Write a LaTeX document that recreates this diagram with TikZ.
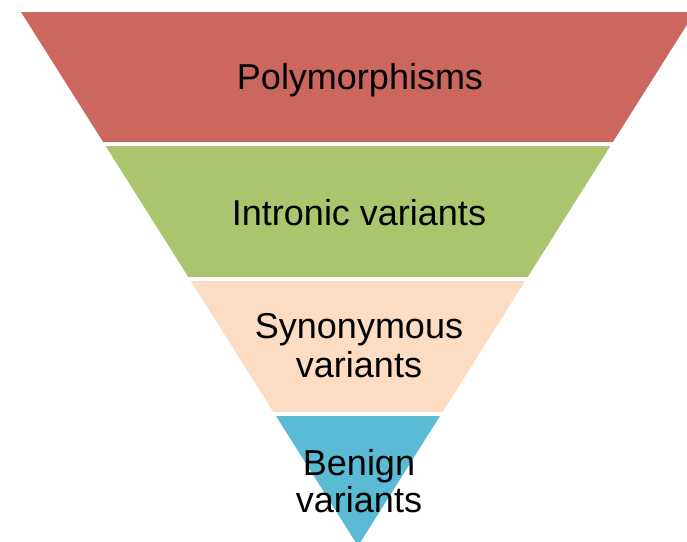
\documentclass[tikz,border=0pt]{standalone}
\usepackage{fontspec}
\setmainfont{Liberation Sans}
\definecolor{cred}{HTML}{CC6760}
\definecolor{cgreen}{HTML}{ABC46E}
\definecolor{cpeach}{HTML}{FCDDC3}
\definecolor{cblue}{HTML}{5CBBD4}
\begin{document}
\begin{tikzpicture}[x=1pt,y=-1pt,
  lbl/.style={anchor=base,text=black,font=\fontsize{36}{39}\selectfont,inner sep=0pt}]
\useasboundingbox (0,0) rectangle (687,541);
\clip (0,0) rectangle (687,541);
\fill[cred] (21,12) -- (695,12) -- (612.9,142) -- (103.1,142) -- cycle;
\fill[cgreen] (105.6,146) -- (610.4,146) -- (527.7,277) -- (188.3,277) -- cycle;
\fill[cpeach] (190.8,281) -- (525.2,281) -- (442.6,412) -- (273.4,412) -- cycle;
\fill[cblue] (276,416) -- (440,416) -- (358,546) -- cycle;
\node[lbl] (poly) at (360,89) {Polymorphisms};
\node[lbl] (intr) at (359,225) {Intronic variants};
\node[lbl] (syna) at (359,338) {Synonymous};
\node[lbl] (synb) at (359,377) {variants};
\node[lbl] (bena) at (359,475) {Benign};
\node[lbl] (benb) at (359,512) {variants};
\end{tikzpicture}
\end{document}
